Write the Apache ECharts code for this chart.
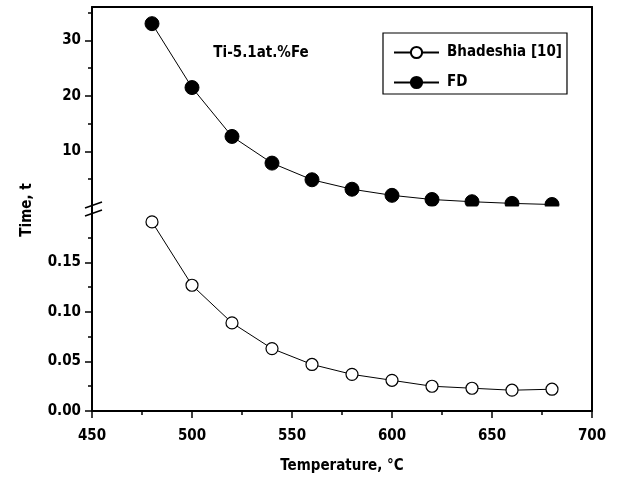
<!DOCTYPE html>
<html>
<head>
<meta charset="utf-8">
<script src="https://cdn.jsdelivr.net/npm/echarts@6/dist/echarts.min.js"></script>
<style>
  html, body { margin: 0; padding: 0; background: #fff; }
  #chart { width: 618px; height: 489px; }
</style>
</head>
<body>
<div id="chart"></div>
<script>
// Isothermal time vs temperature for Ti-5.1at.%Fe
const temps = [480, 500, 520, 540, 560, 580, 600, 620, 640, 660, 680];
const bhadeshia = [0.191, 0.127, 0.089, 0.063, 0.047, 0.037, 0.031, 0.025, 0.023, 0.021, 0.022];
const fd = [33.0, 21.5, 12.7, 7.9, 4.9, 3.2, 2.1, 1.35, 0.95, 0.65, 0.45];

const xTicks = [450, 500, 550, 600, 650, 700];
const upperTicks = [10, 20, 30];
const lowerTicks = [0, 0.05, 0.10, 0.15];

const FONT = 'DejaVu Sans Condensed';
const FSIZE = 15;
const INK = '#000';

// plot frame (two stacked panels sharing the temperature axis)
const PL = 92, PR = 592, PT = 7, UPPER_B = 207, LOWER_T = 210, PB = 411;

const chart = echarts.init(document.getElementById('chart'), null, { renderer: 'canvas' });

const frameLine = { show: true, onZero: false, lineStyle: { color: INK, width: 2 } };
const tickStyle = { show: true, inside: false, length: 7, lineStyle: { color: INK, width: 1.5 } };
const minorStyle = { show: true, splitNumber: 2, length: 4, lineStyle: { color: INK, width: 1.5 } };
const labelStyle = { color: INK, fontFamily: FONT, fontSize: FSIZE, fontWeight: 'bold' };
const cssFont = 'bold ' + FSIZE + 'px "' + FONT + '"';

const option = {
  animation: false,
  backgroundColor: '#fff',
  textStyle: { fontFamily: FONT, color: INK },
  grid: [
    { left: PL, top: PT, width: PR - PL, height: UPPER_B - PT },
    { left: PL, top: LOWER_T, width: PR - PL, height: PB - LOWER_T }
  ],
  xAxis: [
    {
      type: 'value', gridIndex: 0, position: 'top', min: 450, max: 700, interval: 50,
      axisLine: frameLine, axisTick: { show: false }, axisLabel: { show: false }, splitLine: { show: false }
    },
    {
      type: 'value', gridIndex: 1, position: 'bottom', min: 450, max: 700, interval: 50,
      axisLine: frameLine,
      axisTick: tickStyle,
      minorTick: minorStyle,
      axisLabel: Object.assign({ margin: 18, customValues: xTicks }, labelStyle),
      splitLine: { show: false },
      name: 'Temperature, °C', nameLocation: 'middle', nameGap: 48,
      nameTextStyle: { color: INK, fontFamily: FONT, fontSize: FSIZE, fontWeight: 'bold' }
    }
  ],
  yAxis: [
    {
      type: 'value', gridIndex: 0, position: 'left', min: 0, max: 36, interval: 10,
      axisLine: frameLine,
      axisTick: Object.assign({ customValues: upperTicks }, tickStyle),
      minorTick: minorStyle,
      axisLabel: Object.assign({ margin: 11, customValues: upperTicks }, labelStyle),
      splitLine: { show: false }
    },
    {
      type: 'value', gridIndex: 0, position: 'right', min: 0, max: 36,
      axisLine: frameLine, axisTick: { show: false }, axisLabel: { show: false }, splitLine: { show: false }
    },
    {
      type: 'value', gridIndex: 1, position: 'left', min: 0, max: 0.203, interval: 0.05,
      axisLine: frameLine,
      axisTick: Object.assign({ customValues: lowerTicks }, tickStyle),
      minorTick: minorStyle,
      axisLabel: Object.assign({
        margin: 11, customValues: lowerTicks,
        formatter: v => v.toFixed(2)
      }, labelStyle),
      splitLine: { show: false }
    },
    {
      type: 'value', gridIndex: 1, position: 'right', min: 0, max: 0.203,
      axisLine: frameLine, axisTick: { show: false }, axisLabel: { show: false }, splitLine: { show: false }
    }
  ],
  legend: {
    orient: 'vertical',
    left: 383, top: 33,
    padding: [12, 5, 4, 10],
    itemWidth: 45, itemHeight: 14, itemGap: 15,
    borderColor: INK, borderWidth: 1.2,
    textStyle: { color: INK, fontFamily: FONT, fontSize: FSIZE, fontWeight: 'bold', padding: [0, 0, 0, 3] },
    data: ['Bhadeshia [10]', 'FD']
  },
  series: [
    {
      name: 'Bhadeshia [10]', type: 'line', xAxisIndex: 1, yAxisIndex: 2,
      data: temps.map((t, i) => [t, bhadeshia[i]]),
      symbol: 'circle', symbolSize: 12, showAllSymbol: true,
      lineStyle: { color: INK, width: 1 },
      itemStyle: { color: '#fff', borderColor: INK, borderWidth: 1.2 }
    },
    {
      name: 'FD', type: 'line', xAxisIndex: 0, yAxisIndex: 0,
      data: temps.map((t, i) => [t, fd[i]]),
      symbol: 'circle', symbolSize: 14, showAllSymbol: true,
      lineStyle: { color: INK, width: 1 },
      itemStyle: { color: INK, borderColor: INK, borderWidth: 1 }
    }
  ],
  graphic: [
    // blank strip between the panels: hides marker parts below the upper panel
    { type: 'rect', z: 50, silent: true,
      shape: { x: PL + 2, y: UPPER_B - 0.5, width: PR - PL - 4, height: 6 },
      style: { fill: '#fff' } },
    // frame continuation across the gap
    { type: 'line', z: 60, silent: true,
      shape: { x1: PL, y1: UPPER_B - 1, x2: PL, y2: LOWER_T + 1 },
      style: { stroke: INK, lineWidth: 2 } },
    { type: 'line', z: 60, silent: true,
      shape: { x1: PR, y1: UPPER_B - 1, x2: PR, y2: LOWER_T + 1 },
      style: { stroke: INK, lineWidth: 2 } },
    // axis break marks
    { type: 'line', z: 61, silent: true,
      shape: { x1: PL - 7, y1: 208, x2: PL + 10, y2: 202 },
      style: { stroke: INK, lineWidth: 1.5 } },
    { type: 'line', z: 61, silent: true,
      shape: { x1: PL - 7, y1: 216, x2: PL + 10, y2: 210 },
      style: { stroke: INK, lineWidth: 1.5 } },
    // y-axis title spanning both panels
    { type: 'text', z: 61, silent: true, x: 27, y: 210, rotation: Math.PI / 2,
      style: { text: 'Time, t', fill: INK, font: cssFont, align: 'center', verticalAlign: 'middle' } },
    // alloy annotation
    { type: 'text', z: 61, silent: true, x: 261, y: 53,
      style: { text: 'Ti-5.1at.%Fe', fill: INK, font: cssFont, align: 'center', verticalAlign: 'middle' } }
  ]
};

chart.setOption(option);
</script>
</body>
</html>
